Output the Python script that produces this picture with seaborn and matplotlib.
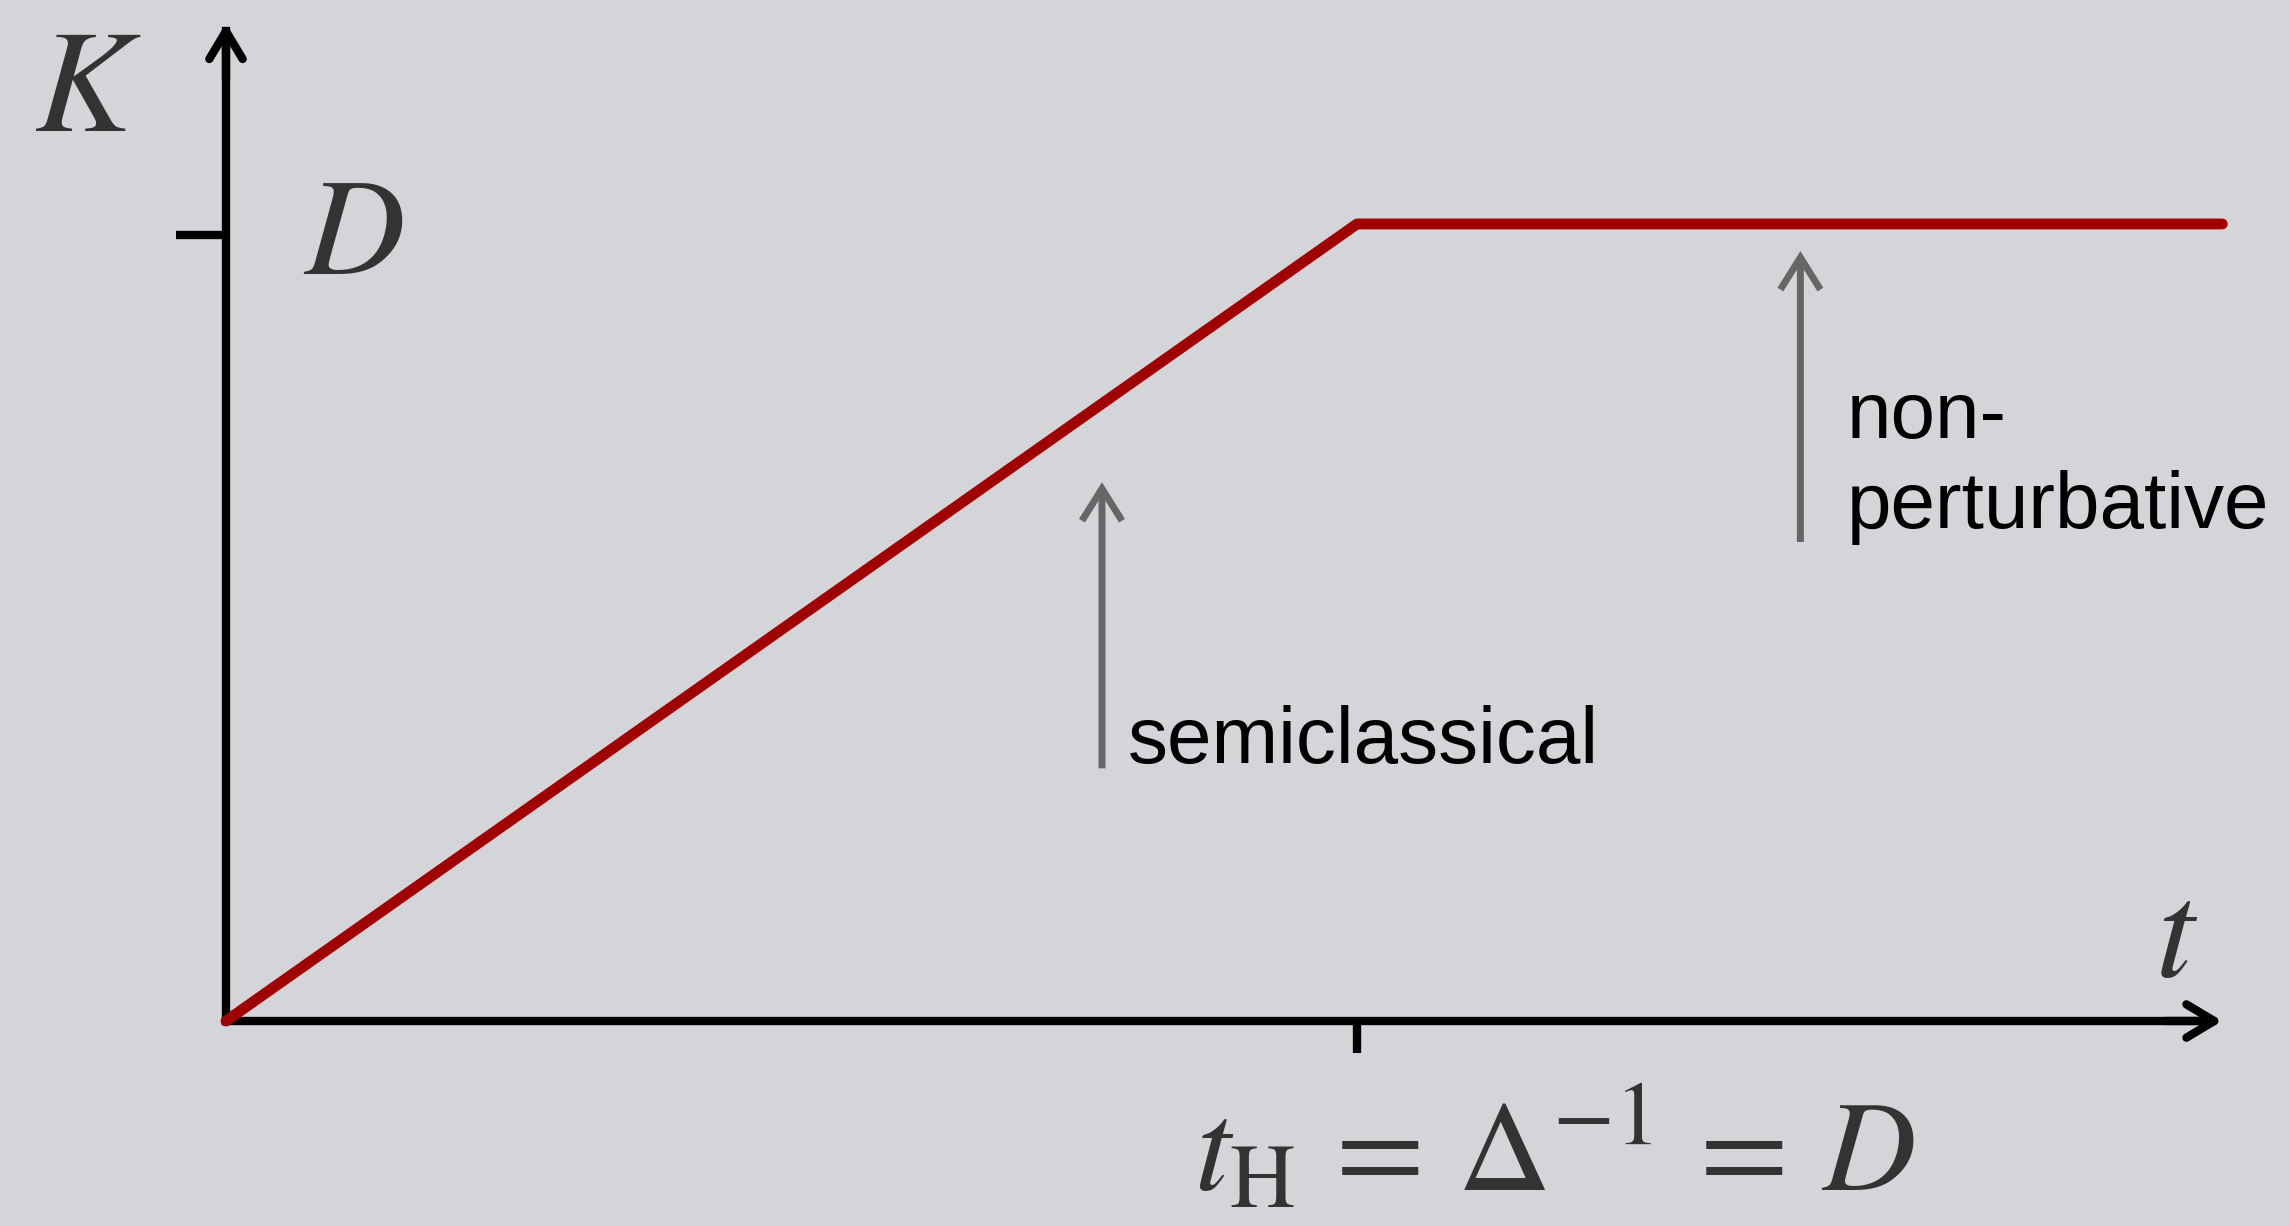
import matplotlib
matplotlib.use("Agg")
import matplotlib.pyplot as plt
import seaborn as sns
import pandas as pd

# Spectral form factor sketch: linear ramp up to the Heisenberg time, then a plateau
t_vals = [0.0, 1.0, 1.765]          # time in units of t_H
K_vals = [0.0, 1.0, 1.0]            # form factor in units of the plateau D
D_tick = 0.986                      # tick mark for D on the K axis
tH_tick = 1.0                       # tick mark for t_H on the t axis

# annotation arrows: (t position, bottom, top)
semi_arrow = (0.7745, 0.317, 0.676)
nonpert_arrow = (1.392, 0.601, 0.966)

x_tip = 1.765                        # end of the t axis
y_tip = 1.252                        # end of the K axis

BG = "#d4d5d9"
RED = "#a10000"
GREY = "#666666"
INK = "#333333"

sns.set_theme(style="white")
plt.rcParams["font.family"] = ["Liberation Sans", "DejaVu Sans"]
plt.rcParams["mathtext.fontset"] = "stix"

fig = plt.figure(figsize=(22.89, 12.26), dpi=100, facecolor=BG)
ax = fig.add_axes([0, 0, 1, 1])
ax.set_facecolor(BG)
ax.set_xlim(-0.1998, 1.824)
ax.set_ylim(-0.2572, 1.281)

df = pd.DataFrame({"t": t_vals, "K": K_vals})
sns.lineplot(data=df, x="t", y="K", sort=False, color=RED, lw=7.8,
             solid_capstyle="round", solid_joinstyle="round", ax=ax, zorder=5)

# axes through the origin
for side in ("top", "right"):
    ax.spines[side].set_visible(False)
for side in ("left", "bottom"):
    sp = ax.spines[side]
    sp.set_position(("data", 0))
    sp.set_linewidth(6)
    sp.set_color("black")
    sp.set_capstyle("projecting")
ax.spines["left"].set_bounds(0, y_tip - 0.01)
ax.spines["bottom"].set_bounds(0, x_tip - 0.01)

ax.set_xticks([tH_tick])
ax.set_yticks([D_tick])
ax.tick_params(axis="x", direction="out", length=23, width=6, color="black",
               labelbottom=False, bottom=True)
ax.tick_params(axis="y", direction="out", length=36, width=6, color="black",
               labelleft=False, left=True)
ax.set_xlabel("")
ax.set_ylabel("")
ax.grid(False)

axis_head = dict(arrowstyle="->,head_length=1.0,head_width=0.6", lw=6,
                 color="black", mutation_scale=20, shrinkA=0, shrinkB=0,
                 capstyle="round", joinstyle="round")
ax.annotate("", xy=(x_tip, 0), xytext=(x_tip - 0.05, 0), arrowprops=axis_head)
ax.annotate("", xy=(0, y_tip), xytext=(0, y_tip - 0.07), arrowprops=axis_head)

grey_head = dict(arrowstyle="->,head_length=1.15,head_width=0.72", lw=5,
                 color=GREY, mutation_scale=20, shrinkA=0, shrinkB=0,
                 capstyle="butt", joinstyle="miter")
for (xa, y0, y1) in (semi_arrow, nonpert_arrow):
    ax.annotate("", xy=(xa, y1), xytext=(xa, y0), arrowprops=grey_head)

ax.text(0.7975, 0.324, "semiclassical", fontsize=57.6, color="black",
        ha="left", va="baseline")
ax.text(1.433, 0.7315, "non-", fontsize=57.6, color="black",
        ha="left", va="baseline")
ax.text(1.433, 0.619, "perturbative", fontsize=57.6, color="black",
        ha="left", va="baseline")

ax.text(-0.122, 1.1167, r"$K$", fontsize=105, color=INK, ha="center", va="baseline")
ax.text(0.1123, 0.937, r"$D$", fontsize=100, color=INK, ha="center", va="baseline")
ax.text(1.725, 0.0565, r"$t$", fontsize=100, color=INK, ha="center", va="baseline")
ax.text(1.175, -0.212, r"$t_{\mathrm{H}}\,=\,\Delta^{-1}\,=\,D$", fontsize=93,
        color=INK, ha="center", va="baseline")

fig.savefig("out.png", dpi=100, facecolor=BG)
